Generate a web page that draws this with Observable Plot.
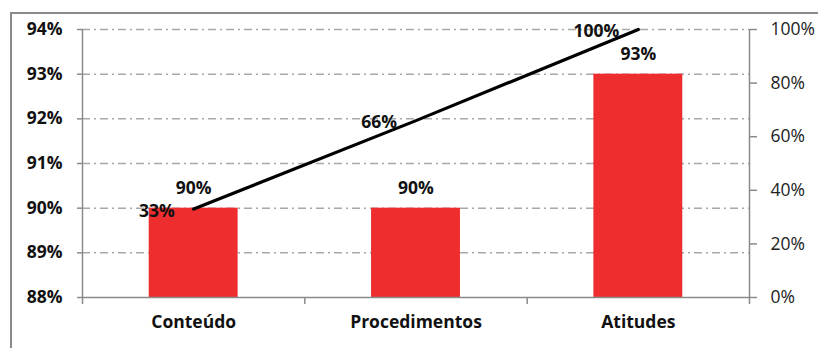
<!DOCTYPE html>
<html>
<head>
<meta charset="utf-8">
<script src="https://cdn.jsdelivr.net/npm/d3@7"></script>
<script src="https://cdn.jsdelivr.net/npm/@observablehq/plot@0.6"></script>
<style>
  body { margin: 0; background: #fff; }
  #wrap { position: relative; width: 818px; height: 348px; overflow: hidden; background: #fff; }
  #border { position: absolute; left: 10px; top: 12px; width: 900px; height: 500px; border: 2px solid #8a8a8a; box-sizing: border-box; }
  #chart { position: absolute; left: 0; top: 0; }
</style>
</head>
<body>
<div id="wrap"><div id="border"></div><div id="chart"></div></div>
<script>
const categories = ["Conteúdo", "Procedimentos", "Atitudes"];
const barValues = [90, 90, 93];          // primary axis, %
const lineValues = [33, 66, 100];        // secondary axis, %
const leftTicks = [88, 89, 90, 91, 92, 93, 94];
const rightTicks = [0, 20, 40, 60, 80, 100];
const gridValues = [89, 90, 91, 92, 93, 94];

const yMin = 88, yMax = 94;
const toPrimary = v => yMin + (v / 100) * (yMax - yMin);

const bars = categories.map((c, i) => ({i, c, v: barValues[i]}));
const line = categories.map((c, i) => ({i, c, v: lineValues[i], y: toPrimary(lineValues[i])}));

const font = "'Open Sans', Lato, sans-serif";
const fs = 17.5;

const chart = Plot.plot({
  width: 818,
  height: 348,
  marginLeft: 82,
  marginRight: 69,
  marginTop: 29,
  marginBottom: 51,
  style: {fontFamily: font, fontSize: "16px", color: "#111", background: "transparent"},
  x: {type: "linear", domain: [-0.5, 2.5]},
  y: {domain: [yMin, yMax]},
  marks: [
    Plot.ruleY(gridValues, {stroke: "#a8a8a8", strokeWidth: 1.5, strokeDasharray: "8,4,2,4"}),
    Plot.rectY(bars, {x1: d => d.i - 0.2, x2: d => d.i + 0.2, y1: yMin, y2: "v", fill: "#ee2d2f"}),
    Plot.ruleY([yMin], {stroke: "#8a8a8a", strokeWidth: 1.5}),
    Plot.ruleX([-0.5], {stroke: "#8a8a8a", strokeWidth: 1.5}),
    Plot.ruleX([2.5], {stroke: "#8a8a8a", strokeWidth: 1.5}),
    Plot.axisY({anchor: "left", ticks: leftTicks, tickFormat: d => d + "%", tickSize: 5, tickPadding: 15,
      stroke: "#8a8a8a", strokeWidth: 1.5, fontWeight: "bold", fontSize: fs, fill: "#111", label: null}),
    Plot.axisY({anchor: "right", ticks: rightTicks.map(toPrimary), tickFormat: (d, k) => rightTicks[k] + "%",
      tickSize: 7, tickPadding: 14, stroke: "#8a8a8a", strokeWidth: 1.5, fontSize: 17.5, fill: "#222", label: null}),
    Plot.axisX({ticks: [-0.5, 0.5, 1.5, 2.5], tickFormat: () => "", tickSize: 7, stroke: "#8a8a8a", strokeWidth: 1.5, label: null}),
    Plot.axisX({ticks: [0, 1, 2], tickFormat: d => categories[d], tickSize: 0, tickPadding: 18,
      fontWeight: "bold", fontSize: fs, fill: "#111", label: null}),
    Plot.line(line, {x: "i", y: "y", stroke: "#000", strokeWidth: 3.2}),
    Plot.text(bars, {x: "i", y: "v", text: d => d.v + "%", dy: -20, fontWeight: "bold", fontSize: fs, fill: "#111"}),
    Plot.text(line, {x: "i", y: "y", text: d => d.v + "%", dx: -19, dy: 2, textAnchor: "end", fontWeight: "bold", fontSize: fs, fill: "#111"})
  ]
});
document.getElementById("chart").appendChild(chart);
</script>
</body>
</html>
